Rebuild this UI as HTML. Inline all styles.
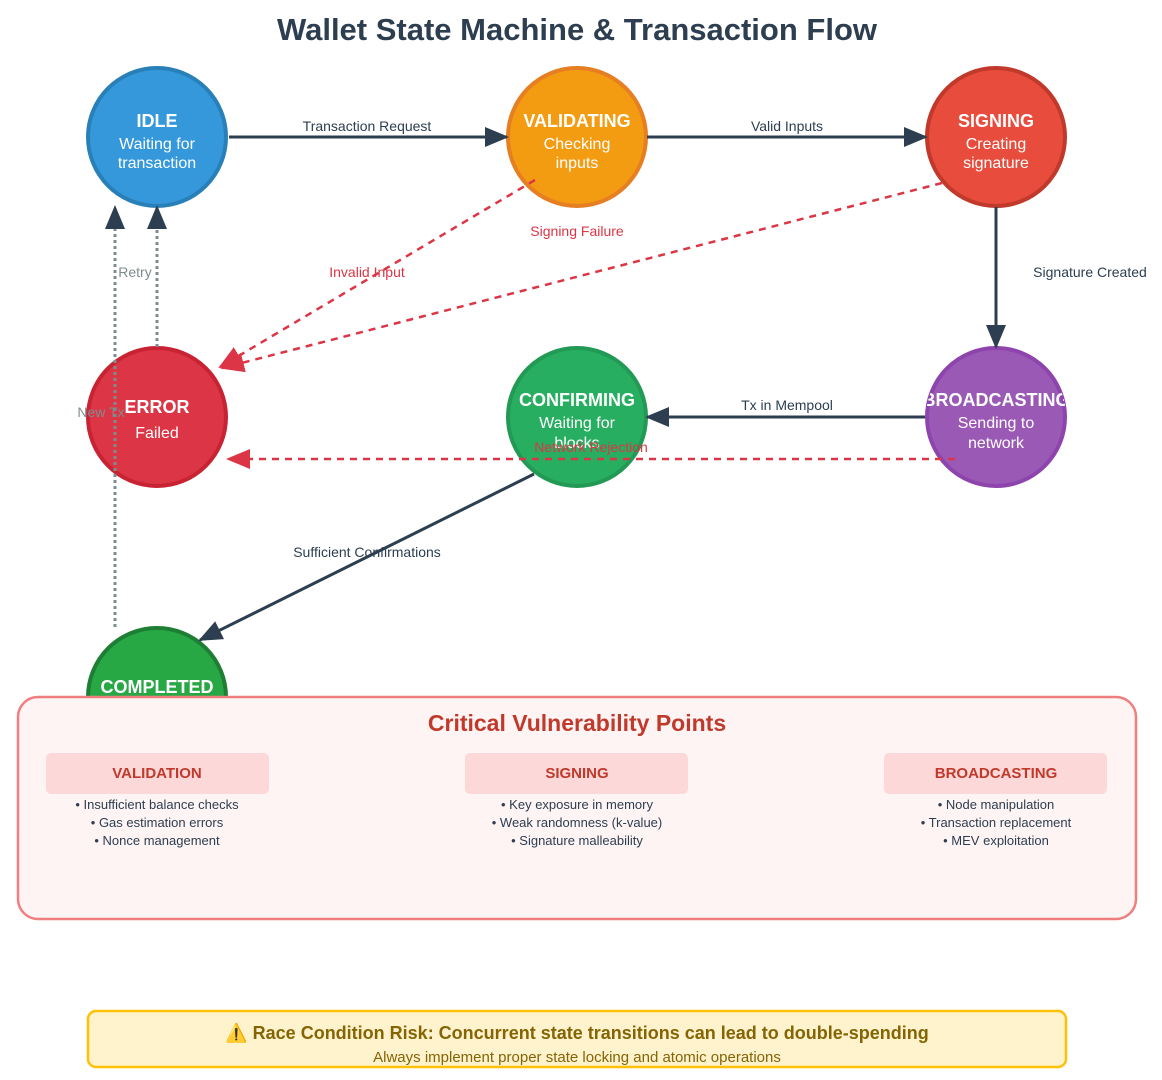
<!DOCTYPE html>
<html><head><meta charset="utf-8"><style>
html,body{margin:0;padding:0;background:#fff;}
svg{display:block;font-family:"Liberation Sans",Arial,sans-serif;}
</style></head><body>
<svg width="1162" height="1080" viewBox="0 0 1162 1080" xmlns="http://www.w3.org/2000/svg">
<defs>
<marker id="ad" markerWidth="12" markerHeight="10" refX="11" refY="5" orient="auto" markerUnits="userSpaceOnUse"><path d="M0,0 L12,5 L0,10 Z" fill="#2c3e50"/></marker>
<marker id="ab" markerWidth="24" markerHeight="20" refX="22" refY="10" orient="auto" markerUnits="userSpaceOnUse"><path d="M0,0 L24,10 L0,20 Z" fill="#2c3e50"/></marker>
<marker id="ar" markerWidth="24" markerHeight="20" refX="22" refY="10" orient="auto" markerUnits="userSpaceOnUse"><path d="M0,0 L24,10 L0,20 Z" fill="#dc3545"/></marker>
<clipPath id="cb"><circle cx="996" cy="417" r="70"/></clipPath>
<clipPath id="cc"><circle cx="577" cy="417" r="70"/></clipPath>
</defs>
<text x="577" y="40" text-anchor="middle" font-size="31" font-weight="bold" fill="#2c3e50">Wallet State Machine &amp; Transaction Flow</text>

<g stroke-width="4">
<circle cx="157" cy="137" r="69" fill="#3498db" stroke="#2980b9"/>
<circle cx="577" cy="137" r="69" fill="#f39c12" stroke="#e67e22"/>
<circle cx="996" cy="137" r="69" fill="#e74c3c" stroke="#c0392b"/>
<circle cx="157" cy="417" r="69" fill="#dc3545" stroke="#c82333"/>
<circle cx="577" cy="417" r="69" fill="#27ae60" stroke="#229954"/>
<circle cx="996" cy="417" r="69" fill="#9b59b6" stroke="#8e44ad"/>
<circle cx="157" cy="697" r="69" fill="#28a745" stroke="#1e7e34"/>
</g>
<g fill="#fff" text-anchor="middle">
<text x="157" y="127" font-size="18" font-weight="bold">IDLE</text>
<text x="157" y="149" font-size="16">Waiting for</text>
<text x="157" y="168" font-size="16">transaction</text>
<text x="577" y="127" font-size="18" font-weight="bold">VALIDATING</text>
<text x="577" y="149" font-size="16">Checking</text>
<text x="577" y="168" font-size="16">inputs</text>
<text x="996" y="127" font-size="18" font-weight="bold">SIGNING</text>
<text x="996" y="149" font-size="16">Creating</text>
<text x="996" y="168" font-size="16">signature</text>
<text x="157" y="413" font-size="18" font-weight="bold">ERROR</text>
<text x="157" y="438" font-size="16">Failed</text>
<g clip-path="url(#cc)"><text x="577" y="406" font-size="18" font-weight="bold">CONFIRMING</text>
<text x="577" y="428" font-size="16">Waiting for</text>
<text x="577" y="448" font-size="16">blocks</text></g>
<g clip-path="url(#cb)"><text x="996" y="406" font-size="18" font-weight="bold">BROADCASTING</text></g>
<text x="996" y="428" font-size="16">Sending to</text>
<text x="996" y="448" font-size="16">network</text>
<text x="157" y="693" font-size="18" font-weight="bold">COMPLETED</text>
</g>

<g stroke="#2c3e50" stroke-width="3" fill="none">
<line x1="229" y1="137" x2="507" y2="137" marker-end="url(#ab)"/>
<line x1="647" y1="137" x2="926" y2="137" marker-end="url(#ab)"/>
<line x1="996" y1="207" x2="996" y2="347" marker-end="url(#ab)"/>
<line x1="925" y1="417" x2="647" y2="417" marker-end="url(#ab)"/>
<line x1="534" y1="474" x2="200" y2="640" marker-end="url(#ab)"/>
</g>
<g stroke="#7f8c8d" stroke-width="3" stroke-dasharray="3,3" fill="none">
<line x1="115" y1="627" x2="115" y2="207" marker-end="url(#ab)"/>
<line x1="157" y1="347" x2="157" y2="207" marker-end="url(#ab)"/>
</g>
<g stroke="#dc3545" stroke-width="2.5" stroke-dasharray="7,6" fill="none">
<line x1="535" y1="180" x2="220" y2="367" marker-end="url(#ar)"/>
<line x1="942" y1="183" x2="222" y2="368" marker-end="url(#ar)"/>
<line x1="955" y1="459" x2="228" y2="459" marker-end="url(#ar)"/>
</g>

<g font-size="14" text-anchor="middle">
<text x="367" y="131" fill="#2c3e50">Transaction Request</text>
<text x="787" y="131" fill="#2c3e50">Valid Inputs</text>
<text x="1090" y="277" fill="#2c3e50">Signature Created</text>
<text x="787" y="410" fill="#2c3e50">Tx in Mempool</text>
<text x="367" y="557" fill="#2c3e50">Sufficient Confirmations</text>
<text x="577" y="236" fill="#dc3545">Signing Failure</text>
<text x="367" y="277" fill="#dc3545">Invalid Input</text>
<text x="591" y="452" fill="#dc3545">Network Rejection</text>
<text x="135" y="277" fill="#7f8c8d">Retry</text>
<text x="101" y="417" fill="#7f8c8d">New Tx</text>
</g>

<rect x="18" y="697" width="1118" height="222" rx="20" fill="#fef4f4" stroke="#f08080" stroke-width="2.5"/>
<text x="577" y="731" text-anchor="middle" font-size="23" font-weight="bold" fill="#c0392b">Critical Vulnerability Points</text>
<g fill="#fdd8d8">
<rect x="46" y="753" width="223" height="41" rx="5"/>
<rect x="465" y="753" width="223" height="41" rx="5"/>
<rect x="884" y="753" width="223" height="41" rx="5"/>
</g>
<g font-size="15" font-weight="bold" fill="#c0392b" text-anchor="middle">
<text x="157" y="778">VALIDATION</text>
<text x="577" y="778">SIGNING</text>
<text x="996" y="778">BROADCASTING</text>
</g>
<g font-size="13" fill="#2c3e50" text-anchor="middle">
<text x="157" y="809">• Insufficient balance checks</text>
<text x="157" y="827">• Gas estimation errors</text>
<text x="157" y="845">• Nonce management</text>
<text x="577" y="809">• Key exposure in memory</text>
<text x="577" y="827">• Weak randomness (k-value)</text>
<text x="577" y="845">• Signature malleability</text>
<text x="996" y="809">• Node manipulation</text>
<text x="996" y="827">• Transaction replacement</text>
<text x="996" y="845">• MEV exploitation</text>
</g>

<rect x="88" y="1011" width="978" height="56" rx="8" fill="#fff3cd" stroke="#ffc107" stroke-width="2.5"/>
<text x="577" y="1039" text-anchor="middle" font-size="18" font-weight="bold" fill="#856404">⚠️ Race Condition Risk: Concurrent state transitions can lead to double-spending</text>
<text x="577" y="1062" text-anchor="middle" font-size="15" fill="#856404">Always implement proper state locking and atomic operations</text>
</svg>
</body></html>
